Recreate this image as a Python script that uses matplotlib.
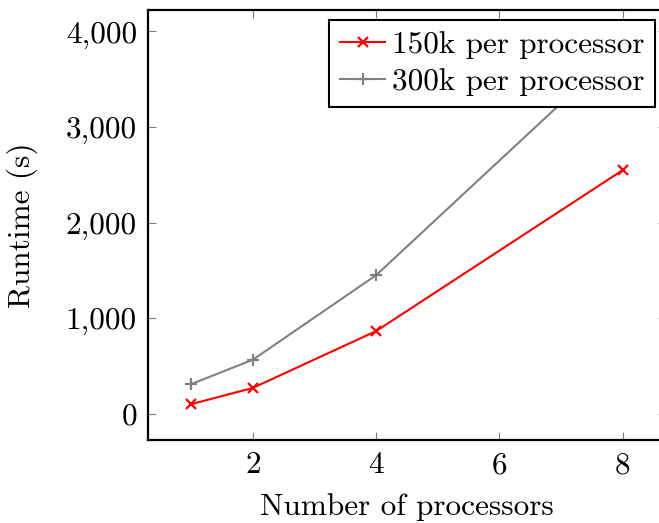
import matplotlib
matplotlib.use('Agg')
import matplotlib.pyplot as plt
from matplotlib.ticker import FuncFormatter

# runtimes in seconds for each processor count
processors = [1, 2, 4, 8]
runtime_150k = [100, 270, 865, 2550]
runtime_300k = [310, 565, 1450, 3850]
series_labels = ['150k per processor', '300k per processor']
x_ticks = [2, 4, 6, 8]
y_ticks = [0, 1000, 2000, 3000, 4000]

plt.rcParams['font.family'] = 'serif'
plt.rcParams['font.serif'] = ['cmr10']
plt.rcParams['mathtext.fontset'] = 'cm'
plt.rcParams['axes.unicode_minus'] = False

FS = 22.5

fig = plt.figure(figsize=(6.59, 5.23), dpi=100)
ax = fig.add_axes([0.2246, 0.1587, 0.786, 0.8222])

ax.plot(processors, runtime_150k, color='red', marker='x', markersize=7,
        markeredgewidth=1.6, linewidth=1.5, label=series_labels[0])
ax.plot(processors, runtime_300k, color='#808080', marker='+', markersize=9,
        markeredgewidth=1.6, linewidth=1.5, label=series_labels[1])

ax.set_xlim(0.3, 8.7)
ax.set_ylim(-275, 4225)
ax.set_xticks(x_ticks)
ax.set_yticks(y_ticks)
ax.yaxis.set_major_formatter(FuncFormatter(lambda v, p: f'{int(v):,}'))

ax.tick_params(direction='in', length=6, width=0.8, color='#7f7f7f',
               labelsize=FS, top=True, right=True, pad=8)
for s in ax.spines.values():
    s.set_linewidth(1.6)

ax.set_xlabel('Number of processors', fontsize=FS, labelpad=10)
ax.set_ylabel('Runtime (s)', fontsize=FS, labelpad=20)

leg = ax.legend(loc='upper right', bbox_to_anchor=(655 / 659, 1 - 20 / 523),
                bbox_transform=fig.transFigure, borderaxespad=0, fontsize=FS,
                fancybox=False, framealpha=1, edgecolor='black',
                handlelength=1.45, handletextpad=0.2, borderpad=0.35,
                labelspacing=0.3)
leg.get_frame().set_linewidth(1.5)

fig.savefig('out.png', dpi=100)
